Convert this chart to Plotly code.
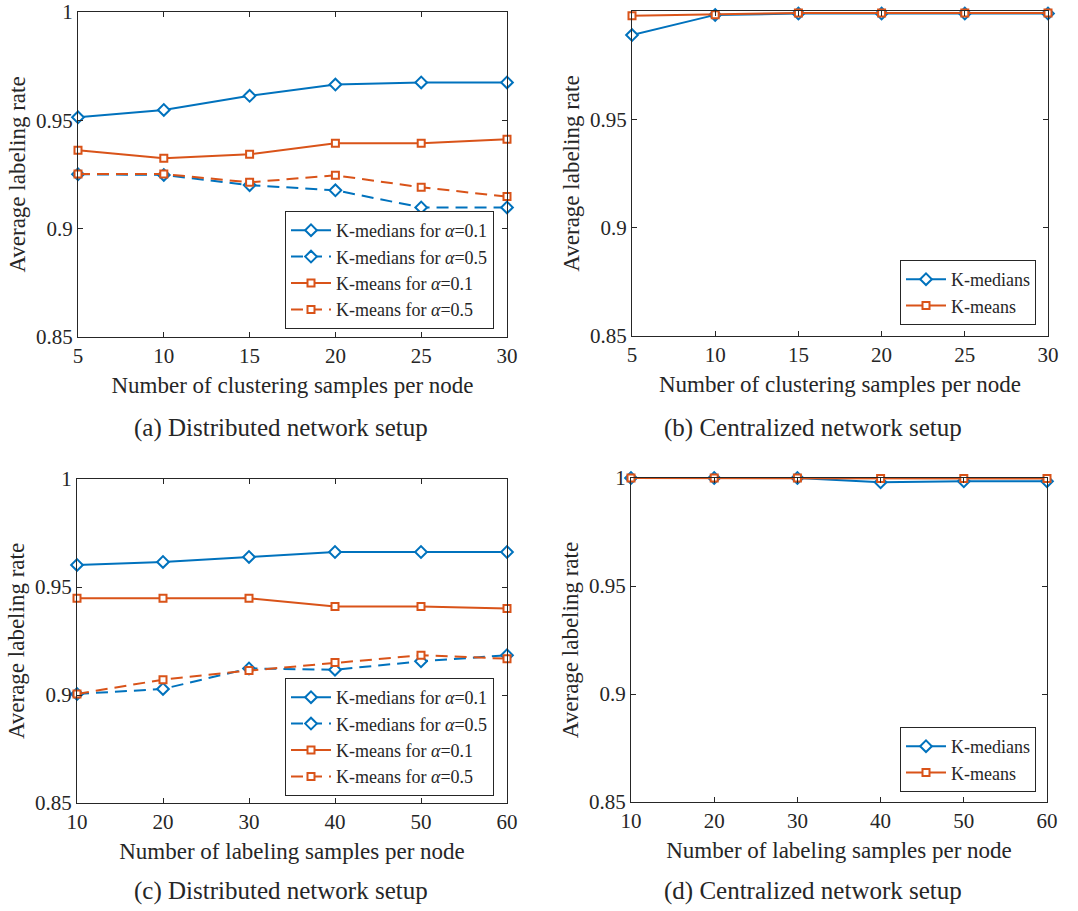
import plotly.graph_objects as go

# ---------------- data ----------------
x_clustering = [5, 10, 15, 20, 25, 30]
x_labeling = [10, 20, 30, 40, 50, 60]

a_kmedians_01 = [0.9514, 0.9548, 0.9613, 0.9665, 0.9675, 0.9675]
a_kmedians_05 = [0.9251, 0.9248, 0.9201, 0.9177, 0.9098, 0.9098]
a_kmeans_01 = [0.9362, 0.9325, 0.9343, 0.9394, 0.9394, 0.9413]
a_kmeans_05 = [0.9252, 0.9252, 0.9214, 0.9246, 0.9191, 0.9148]

b_kmedians = [0.9889, 0.9982, 0.9988, 0.9988, 0.9988, 0.9988]
b_kmeans = [0.9978, 0.9983, 0.9991, 0.9991, 0.9991, 0.9991]

c_kmedians_01 = [0.9602, 0.9616, 0.9639, 0.9662, 0.9662, 0.9662]
c_kmedians_05 = [0.9005, 0.9028, 0.9123, 0.9117, 0.9156, 0.9184]
c_kmeans_01 = [0.9448, 0.9448, 0.9448, 0.9410, 0.9410, 0.9400]
c_kmeans_05 = [0.9005, 0.9071, 0.9113, 0.9150, 0.9184, 0.9168]

d_kmedians = [1.0, 1.0, 1.0, 0.9980, 0.9985, 0.9985]
d_kmeans = [1.0, 1.0, 1.0, 0.9998, 0.9998, 0.9998]

y_tickvals = [0.85, 0.9, 0.95, 1.0]
y_ticktext = ["0.85", "0.9", "0.95", "1"]

names_alpha = ["K-medians for <i>α</i>=0.1", "K-medians for <i>α</i>=0.5",
               "K-means for <i>α</i>=0.1", "K-means for <i>α</i>=0.5"]
names_plain = ["K-medians", "K-means"]

x_title_clu = "Number of clustering samples per node"
x_title_lab = "Number of labeling samples per node"
y_title = "Average labeling rate"
captions = ["(a) Distributed network setup", "(b) Centralized network setup",
            "(c) Distributed network setup", "(d) Centralized network setup"]

# ---------------- style ----------------
W, H = 1078, 911
BLUE = "#0072BD"
ORANGE = "#D95319"
AX = "#262626"
FONT = "Liberation Serif"
DASH = "12px,7px"

# plot areas in pixels: (left, right, top, bottom)
areas = [(78, 507, 12, 337), (632, 1048, 11, 336),
         (77, 507, 479, 803), (631, 1047, 478, 802)]


def xd(l, r):
    return [l / W, r / W]


def yd(t, b):
    return [1 - b / H, 1 - t / H]


fig = go.Figure()


def add(x, y, name, color, symbol, msize, dash, axis_i, legend):
    xa = "x" if axis_i == 1 else f"x{axis_i}"
    ya = "y" if axis_i == 1 else f"y{axis_i}"
    fig.add_trace(go.Scatter(
        x=x, y=y, name=name, mode="lines+markers",
        line=dict(color=color, width=2, dash=dash),
        marker=dict(symbol=symbol, size=msize, color="white",
                    line=dict(color=color, width=2)),
        xaxis=xa, yaxis=ya, legend=legend, cliponaxis=False))


DIA, DSZ = "diamond", 9
SQ, SSZ = "square", 7

# panel a
add(x_clustering, a_kmedians_01, names_alpha[0], BLUE, DIA, DSZ, "solid", 1, "legend")
add(x_clustering, a_kmedians_05, names_alpha[1], BLUE, DIA, DSZ, DASH, 1, "legend")
add(x_clustering, a_kmeans_01, names_alpha[2], ORANGE, SQ, SSZ, "solid", 1, "legend")
add(x_clustering, a_kmeans_05, names_alpha[3], ORANGE, SQ, SSZ, DASH, 1, "legend")
# panel b
add(x_clustering, b_kmedians, names_plain[0], BLUE, DIA, DSZ, "solid", 2, "legend2")
add(x_clustering, b_kmeans, names_plain[1], ORANGE, SQ, SSZ, "solid", 2, "legend2")
# panel c
add(x_labeling, c_kmedians_01, names_alpha[0], BLUE, DIA, DSZ, "solid", 3, "legend3")
add(x_labeling, c_kmedians_05, names_alpha[1], BLUE, DIA, DSZ, DASH, 3, "legend3")
add(x_labeling, c_kmeans_01, names_alpha[2], ORANGE, SQ, SSZ, "solid", 3, "legend3")
add(x_labeling, c_kmeans_05, names_alpha[3], ORANGE, SQ, SSZ, DASH, 3, "legend3")
# panel d
add(x_labeling, d_kmedians, names_plain[0], BLUE, DIA, DSZ, "solid", 4, "legend4")
add(x_labeling, d_kmeans, names_plain[1], ORANGE, SQ, SSZ, "solid", 4, "legend4")

axis_common = dict(showline=True, linecolor=AX, linewidth=1, mirror="ticks",
                   ticks="inside", ticklen=5, tickcolor=AX, tickwidth=1,
                   showgrid=False, zeroline=False, automargin=False,
                   tickfont=dict(family=FONT, size=21, color=AX))

layout = dict(width=W, height=H, margin=dict(l=0, r=0, t=0, b=0),
              paper_bgcolor="white", plot_bgcolor="white",
              font=dict(family=FONT, color=AX))

xranges = [[5, 30], [5, 30], [10, 60], [10, 60]]
xticks = [x_clustering, x_clustering, x_labeling, x_labeling]
xtitles = [x_title_clu, x_title_clu, x_title_lab, x_title_lab]

for i, (l, r, t, b) in enumerate(areas):
    k = "" if i == 0 else str(i + 1)
    anchor_y = "y" if i == 0 else f"y{i+1}"
    anchor_x = "x" if i == 0 else f"x{i+1}"
    layout[f"xaxis{k}"] = dict(axis_common, domain=xd(l, r), anchor=anchor_y,
                               range=xranges[i], tickvals=xticks[i],
                               title=dict(text=xtitles[i], standoff=9,
                                          font=dict(family=FONT, size=23, color=AX)))
    layout[f"yaxis{k}"] = dict(axis_common, domain=yd(t, b), anchor=anchor_x,
                               range=[0.85, 1.0], tickvals=y_tickvals,
                               ticktext=y_ticktext,
                               title=dict(text=y_title, standoff=3,
                                          font=dict(family=FONT, size=23, color=AX)))

legend_common = dict(bgcolor="white", bordercolor=AX, borderwidth=1,
                     font=dict(family=FONT, size=18, color=AX),
                     xref="paper", yref="paper", xanchor="right", yanchor="bottom",
                     itemwidth=40, tracegroupgap=0, traceorder="normal")
legend_pos = [(494, 329), (1036, 325), (494, 796), (1036, 792)]
for i, (lx, ly) in enumerate(legend_pos):
    k = "legend" if i == 0 else f"legend{i+1}"
    layout[k] = dict(legend_common, x=lx / W, y=1 - ly / H)

cap_pos = [(281, 428), (813, 428), (281, 891), (813, 891)]
layout["annotations"] = [
    dict(text=c, x=px / W, y=1 - py / H, xref="paper", yref="paper",
         xanchor="center", yanchor="middle", showarrow=False,
         font=dict(family=FONT, size=25, color=AX))
    for c, (px, py) in zip(captions, cap_pos)]

fig.update_layout(**layout)
fig.write_html("out.html",
               config={"displayModeBar": False},
               post_script="document.body.style.margin='0';"
                           "document.body.style.overflow='hidden';")
